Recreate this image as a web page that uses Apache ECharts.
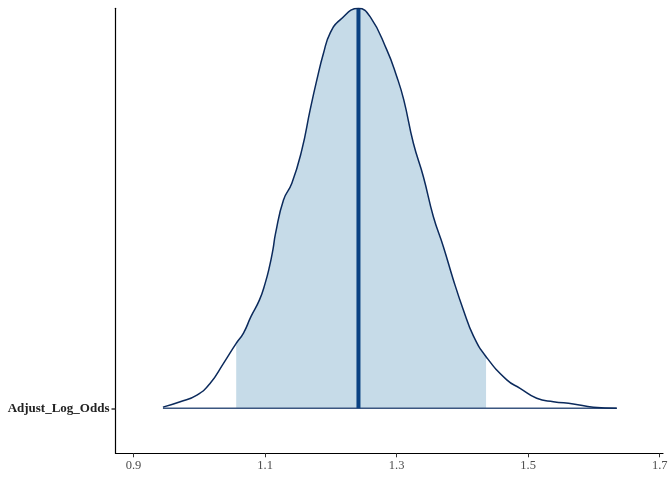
<!DOCTYPE html>
<html><head><meta charset="utf-8">
<script src="https://cdn.jsdelivr.net/npm/echarts@6/dist/echarts.min.js"></script>
<style>html,body{margin:0;padding:0;background:#fff}#c{width:672px;height:480px}</style>
</head><body><div id="c"></div>
<script>
const parameterName = "Adjust_Log_Odds";
const xTicks = [0.9, 1.1, 1.3, 1.5, 1.7];
// density curve (x value, scaled density; peak = 1)
const densityX = [0.9447,0.971,0.9964,1.0166,1.0368,1.0561,1.0672,1.0785,1.0915,1.1002,1.1067,1.1119,1.1160,1.128,1.1407,1.1559,1.1685,1.1787,1.1888,1.1989,1.2141,1.2419,1.2597,1.2851,1.3003,1.3109,1.3255,1.3407,1.3559,1.3711,1.3863,1.4015,1.4167,1.436,1.4675,1.4877,1.513,1.5383,1.5687,1.599,1.6347];
const densityY = [0.003,0.0165,0.033,0.0625,0.1125,0.1625,0.188,0.229,0.271,0.313,0.354,0.396,0.438,0.521,0.5625,0.646,0.746,0.821,0.8875,0.938,0.971,1.0,0.979,0.896,0.829,0.771,0.6625,0.579,0.479,0.404,0.321,0.246,0.181,0.129,0.071,0.05,0.025,0.0165,0.011,0.0025,0.0];
const intervalLow = 1.0561, intervalHigh = 1.436;
const medianValue = 1.242, medianDensity = 1.0;

const curve = densityX.map((x,i)=>[x, densityY[i]]);
const shaded = curve.filter(p => p[0] >= intervalLow - 1e-9 && p[0] <= intervalHigh + 1e-9);

const chart = echarts.init(document.getElementById('c'), null, {renderer:'canvas'});
chart.setOption({
  animation:false,
  backgroundColor:'#fff',
  grid:{left:115.5, right:9, top:8.3, bottom:26.7, containLabel:false},
  xAxis:{type:'value', min:0.8726, max:1.705,
    axisLine:{show:true, onZero:false, lineStyle:{color:'#000', width:1.2}},
    axisTick:{show:true, length:4, customValues:xTicks, lineStyle:{color:'#333'}},
    axisLabel:{customValues:xTicks, formatter:v=>String(v), color:'#4d4d4d', fontFamily:'Liberation Serif', fontSize:12.5, margin:6},
    splitLine:{show:false}},
  yAxis:{type:'value', min:-0.1125, max:1.0,
    axisLine:{show:true, onZero:false, lineStyle:{color:'#000', width:1.2}},
    axisTick:{show:true, length:4, customValues:[0], lineStyle:{color:'#333', width:1.5}},
    axisLabel:{customValues:[0], formatter:()=>parameterName, color:'#222', fontWeight:'bold', fontFamily:'Liberation Serif', fontSize:13, margin:6},
    splitLine:{show:false}},
  series:[
    {type:'line', data:shaded, smooth:0.5, symbol:'none', lineStyle:{width:0}, areaStyle:{color:'#c6dbe8', opacity:1, origin:0}, z:1},
    {type:'line', data:[[densityX[0],0],[densityX[densityX.length-1],0]], symbol:'none', lineStyle:{color:'#3b5680', width:1.6}, z:2},
    {type:'line', data:[[medianValue,0],[medianValue,medianDensity]], symbol:'none', lineStyle:{color:'#0a4182', width:4}, z:3},
    {type:'line', data:curve, smooth:0.5, symbol:'none', lineStyle:{color:'#0b2a5c', width:1.5}, z:4}
  ]
});
</script></body></html>
